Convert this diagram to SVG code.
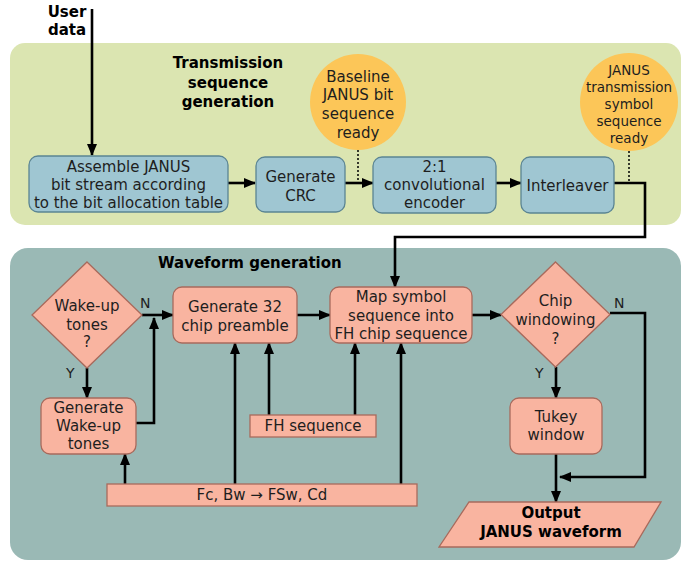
<svg xmlns="http://www.w3.org/2000/svg" width="682" height="565" viewBox="0 0 682 565">
<defs>
<marker id="ah" markerUnits="userSpaceOnUse" markerWidth="12" markerHeight="10" refX="11" refY="5" orient="auto">
<path d="M0,0 L12,5 L0,10 Z" fill="#000"/>
</marker>
</defs>
<style>
text{font-family:"DejaVu Sans","Liberation Sans",sans-serif;font-size:15px;fill:#1e1e1e;text-anchor:middle}
.b{font-weight:bold;fill:#000}
.s{font-size:13.5px}
.lbl{font-size:14px;text-anchor:start}
.blue{fill:#9fc6d2;stroke:#5b8593;stroke-width:1.3}
.pink{fill:#f9b4a0;stroke:#a86a5c;stroke-width:1.3}
.orange{fill:#fcc658}
.c{fill:none;stroke:#000;stroke-width:2.6}
.a{marker-end:url(#ah)}
.dot{fill:none;stroke:#000;stroke-width:1.5;stroke-dasharray:2,2}
</style>
<rect id="panel-top" x="10" y="43" width="671" height="182" rx="15" fill="#dbe5b1"/>
<rect id="panel-bottom" x="10" y="248" width="671" height="312" rx="18" fill="#9ab9b5"/>

<g id="user-data"><text class="b" x="67" y="17">User</text><text class="b" x="67" y="35">data</text></g>
<g id="title-tx"><text class="b" x="228" y="68">Transmission</text><text class="b" x="228" y="87.5">sequence</text><text class="b" x="228" y="107">generation</text></g>
<g id="title-wf"><text class="b" x="158" y="268" style="text-anchor:start">Waveform generation</text></g>

<g id="connectors">
<path class="c a" d="M92,9 V155"/>
<path class="c a" d="M228,183 H255"/>
<path class="c a" d="M345,183 H373"/>
<path class="c a" d="M496,183 H521"/>
<path class="c a" d="M614,183 H645 V237 H395 V287"/>
<path class="dot" d="M358,150 V182"/>
<path class="dot" d="M629,151 V182"/>
<path class="c a" d="M142,315 H173"/>
<path class="c a" d="M87,368 V398"/>
<path class="c a" d="M136,423 H154 V318"/>
<path class="c a" d="M297,315 H330"/>
<path class="c a" d="M472,315 H501"/>
<path class="c a" d="M610,313 H645 V477 H560"/>
<path class="c a" d="M556,367 V398"/>
<path class="c a" d="M556,454 V502"/>
<path class="c a" d="M269,415 V343"/>
<path class="c a" d="M355,415 V343"/>
<path class="c a" d="M125,484 V454"/>
<path class="c a" d="M235,484 V343"/>
<path class="c a" d="M401,484 V343"/>
</g>

<g id="assemble"><rect class="blue" x="29" y="156" width="199" height="56" rx="9"/>
<text x="128.5" y="172">Assemble JANUS</text><text x="128.5" y="190">bit stream according</text><text x="128.5" y="208">to the bit allocation table</text></g>
<g id="crc"><rect class="blue" x="256" y="157" width="89" height="55" rx="9"/>
<text x="300.5" y="182">Generate</text><text x="300.5" y="201">CRC</text></g>
<g id="encoder"><rect class="blue" x="373" y="157" width="123" height="56" rx="9"/>
<text x="434.5" y="172">2:1</text><text x="434.5" y="190">convolutional</text><text x="434.5" y="208">encoder</text></g>
<g id="interleaver"><rect class="blue" x="521" y="157" width="93" height="56" rx="9"/>
<text x="567.5" y="191">Interleaver</text></g>

<g id="baseline-ready"><circle class="orange" cx="358" cy="102" r="48"/>
<text x="358" y="82">Baseline</text><text x="358" y="100">JANUS bit</text><text x="358" y="119">sequence</text><text x="358" y="138">ready</text></g>
<g id="symbol-ready"><circle class="orange" cx="629" cy="102" r="49"/>
<text class="s" x="629" y="75">JANUS</text><text class="s" x="629" y="92">transmission</text><text class="s" x="629" y="109">symbol</text><text class="s" x="629" y="126">sequence</text><text class="s" x="629" y="143">ready</text></g>

<g id="wakeup-q"><polygon class="pink" points="87,262 142,315 87,368 32,315"/>
<text x="87" y="311">Wake-up</text><text x="87" y="329.5">tones</text><text x="87" y="347">?</text>
<text class="lbl" x="140" y="308">N</text><text class="lbl" x="66" y="378">Y</text></g>
<g id="gen-wakeup"><rect class="pink" x="41" y="398" width="95" height="56" rx="9"/>
<text x="88.5" y="413">Generate</text><text x="88.5" y="431">Wake-up</text><text x="88.5" y="449">tones</text></g>
<g id="preamble"><rect class="pink" x="173" y="287" width="124" height="56" rx="9"/>
<text x="235" y="312">Generate 32</text><text x="235" y="331">chip preamble</text></g>
<g id="map"><rect class="pink" x="330" y="287" width="142" height="56" rx="9"/>
<text x="401" y="302">Map symbol</text><text x="401" y="321">sequence into</text><text x="401" y="339">FH chip sequence</text></g>
<g id="chip-q"><polygon class="pink" points="555.5,262 610,314.5 555.5,367 501,314.5"/>
<text x="555.5" y="306">Chip</text><text x="555.5" y="325">windowing</text><text x="555.5" y="344">?</text>
<text class="lbl" x="614" y="308">N</text><text class="lbl" x="535" y="378">Y</text></g>
<g id="tukey"><rect class="pink" x="510" y="398" width="92" height="56" rx="9"/>
<text x="556" y="422">Tukey</text><text x="556" y="440">window</text></g>
<g id="fh"><rect class="pink" x="250" y="415" width="126" height="22"/>
<text x="313" y="431">FH sequence</text></g>
<g id="fc"><rect class="pink" x="107" y="484" width="310" height="22"/>
<text x="262" y="500">Fc, Bw → FSw, Cd</text></g>
<g id="output"><polygon class="pink" points="469,502 661,502 634,547 439,547"/>
<text class="b" x="551" y="518">Output</text><text class="b" x="551" y="537">JANUS waveform</text></g>
</svg>
